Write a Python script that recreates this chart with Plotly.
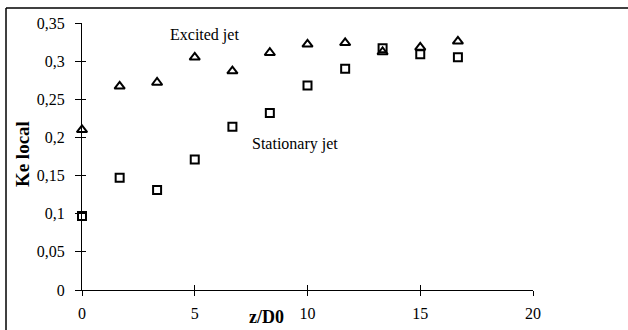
import plotly.graph_objects as go

z_excited = [0, 1.67, 3.33, 5.0, 6.67, 8.33, 10.0, 11.67, 13.33, 15.0, 16.67]
ke_excited = [0.210, 0.267, 0.272, 0.305, 0.287, 0.311, 0.322, 0.324, 0.312, 0.318, 0.326]

z_stationary = [0, 1.67, 3.33, 5.0, 6.67, 8.33, 10.0, 11.67, 13.33, 15.0, 16.67]
ke_stationary = [0.097, 0.147, 0.131, 0.171, 0.214, 0.232, 0.268, 0.290, 0.317, 0.309, 0.305]

x_ticks = [0, 5, 10, 15, 20]
y_ticks = [0, 0.05, 0.1, 0.15, 0.2, 0.25, 0.3, 0.35]
y_ticklabels = ["0", "0,05", "0,1", "0,15", "0,2", "0,25", "0,3", "0,35"]

SERIF = "Liberation Serif, Times New Roman, serif"

fig = go.Figure()
fig.add_trace(go.Scatter(
    x=z_excited, y=ke_excited, mode="markers", cliponaxis=False,
    marker=dict(symbol="triangle-up-open", size=9, color="black", line=dict(width=2, color="black")),
    showlegend=False))
# stationary series drawn on the overlay axes (same ranges) so the inside ticks render
fig.add_trace(go.Scatter(
    x=z_stationary, y=ke_stationary, mode="markers", cliponaxis=False, xaxis="x2", yaxis="y2",
    marker=dict(symbol="square-open", size=8, color="black", line=dict(width=2, color="black")),
    showlegend=False))

axis_common = dict(showgrid=False, zeroline=False, color="black", automargin=False)
fig.update_layout(
    width=628, height=330,
    margin=dict(l=82, r=95, t=23, b=40, autoexpand=False),
    paper_bgcolor="white", plot_bgcolor="white",
    font=dict(family=SERIF, size=16, color="black"),
    xaxis=dict(range=[0, 20], tickvals=x_ticks, ticks="outside", ticklen=5, tickwidth=1,
               tickcolor="black", showline=True, linecolor="black", linewidth=1,
               tickfont=dict(family=SERIF, size=16), ticklabelstandoff=4, **axis_common),
    yaxis=dict(range=[0, 0.35], tickvals=y_ticks, ticktext=y_ticklabels, ticks="outside", ticklen=6,
               tickwidth=1, tickcolor="black", showline=True, linecolor="black", linewidth=1,
               tickfont=dict(family=SERIF, size=16), ticklabelstandoff=7, **axis_common),
    xaxis2=dict(range=[0, 20], tickvals=x_ticks, ticks="inside", ticklen=5, tickwidth=1,
                tickcolor="black", showticklabels=False, overlaying="x", anchor="y2",
                showline=False, **axis_common),
    yaxis2=dict(range=[0, 0.35], tickvals=y_ticks, ticks="inside", ticklen=4, tickwidth=1,
                tickcolor="black", showticklabels=False, overlaying="y", anchor="x2",
                showline=False, **axis_common),
    annotations=[
        dict(text="Excited jet", x=5.41, y=0.334, xref="x", yref="y", showarrow=False,
             xanchor="center", yanchor="middle",
             font=dict(family=SERIF, size=16, color="black")),
        dict(text="Stationary jet", x=9.45, y=0.1914, xref="x", yref="y", showarrow=False,
             xanchor="center", yanchor="middle",
             font=dict(family=SERIF, size=16, color="black")),
        dict(text="<b>z/D0</b>", x=8.16, y=-0.101, xref="x", yref="paper", xanchor="center",
             yanchor="middle", showarrow=False, font=dict(family=SERIF, size=18, color="black")),
        dict(text="<b>Ke local</b>", x=-0.133, y=0.509, xref="paper", yref="paper",
             xanchor="center", yanchor="middle",
             textangle=-90, showarrow=False, font=dict(family=SERIF, size=19, color="black")),
    ],
    shapes=[
        dict(type="line", xref="paper", yref="paper", x0=-0.1685, x1=1.25, y0=1.056, y1=1.056,
             line=dict(color="black", width=1.5)),
        dict(type="line", xref="paper", yref="paper", x0=-0.1685, x1=-0.1685, y0=1.056, y1=-0.2,
             line=dict(color="black", width=1.5)),
    ],
)

fig.write_html("out.html", config={"displayModeBar": False},
               post_script="document.body.style.margin='0';")
